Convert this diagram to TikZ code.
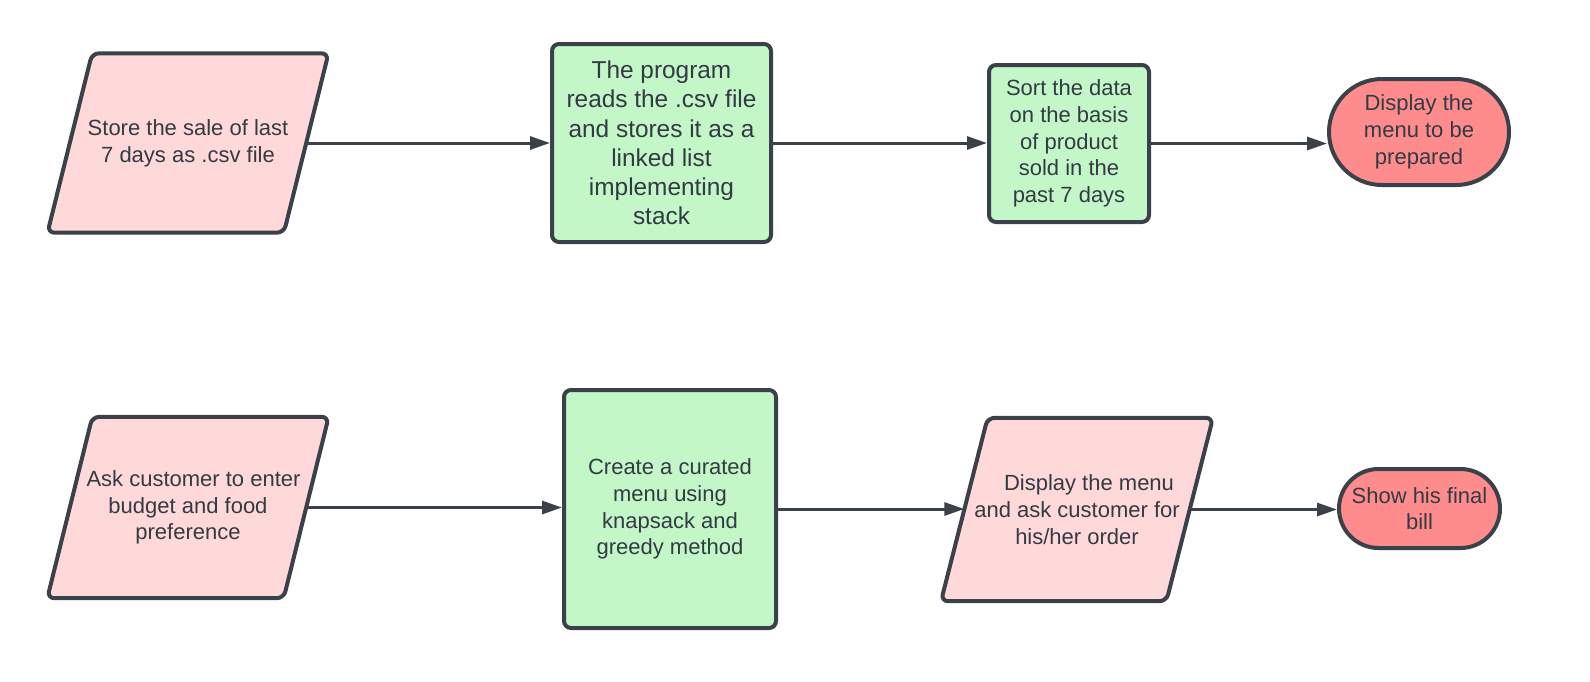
\documentclass[tikz,border=0pt]{standalone}
\usepackage{fontspec}
\setmainfont{Liberation Sans}
\usetikzlibrary{arrows.meta,backgrounds,shapes.misc}
\definecolor{ink}{HTML}{3A414A}
\definecolor{txt}{HTML}{333A44}
\definecolor{pinkfill}{HTML}{FFD9D9}
\definecolor{greenfill}{HTML}{C3F7C8}
\definecolor{redfill}{HTML}{FF8C8C}
\begin{document}
\begin{tikzpicture}[x=1pt,y=-1pt,
  base/.style={align=center, text=txt, font=\fontsize{22}{26.7}\selectfont, inner sep=0pt},
  procbox/.style={base, draw=ink, line width=4pt, fill=greenfill, rounded corners=7pt},
  iobox/.style={base, rectangle},
  paraframe/.style={draw=ink, line width=4pt, fill=pinkfill, rounded corners=7pt, line join=round},
  termbox/.style={base, rounded rectangle, draw=ink, line width=4pt, fill=redfill},
  flow/.style={draw=ink, line width=3pt, -{Triangle[length=20pt,width=13pt]}},
]
\useasboundingbox (0,0) rectangle (1590,681);

% top row
\node[iobox, minimum width=236pt, minimum height=179pt] (P1) at (188,143)
  {Store the sale of last\\7 days as .csv file};
\node[procbox, minimum width=219pt, minimum height=198pt,
      font=\fontsize{24.4}{29.2}\selectfont] (B2) at (661.5,143)
  {The program\\reads the .csv file\\and stores it as a\\linked list\\implementing\\stack};
\node[procbox, minimum width=160pt, minimum height=157pt] (B3) at (1069,143.5)
  {Sort the data\\on the basis\\of product\\sold in the\\past 7 days};
\node[termbox, minimum width=180pt, minimum height=106pt] (T1) at (1419,132)
  {Display the\\menu to be\\prepared};

% bottom row
\node[iobox, minimum width=236pt, minimum height=181pt] (P2) at (188,507.5)
  {\hspace*{11pt}Ask customer to enter\\budget and food\\preference};
\node[procbox, minimum width=212pt, minimum height=238pt] (B5) at (670,509)
  {Create a curated\\menu using\\knapsack and\\greedy method};
\node[iobox, minimum width=225pt, minimum height=183pt] (P3) at (1077,509.5)
  {\hspace*{24pt}Display the menu\\and ask customer for\\his/her order};
\node[termbox, minimum width=161pt, minimum height=79pt] (T2) at (1419.5,508.5)
  {Show his final\\bill};

% parallelogram frames behind their texts
\begin{scope}[on background layer]
  \path[paraframe] ([xshift=-22.3pt]P1.south west) -- ([xshift=22.3pt]P1.north west)
    -- ([xshift=22.3pt]P1.north east) -- ([xshift=-22.3pt]P1.south east) -- cycle;
  \path[paraframe] ([xshift=-22.5pt]P2.south west) -- ([xshift=22.5pt]P2.north west)
    -- ([xshift=22.5pt]P2.north east) -- ([xshift=-22.5pt]P2.south east) -- cycle;
  \path[paraframe] ([xshift=-23.3pt]P3.south west) -- ([xshift=23.3pt]P3.north west)
    -- ([xshift=23.3pt]P3.north east) -- ([xshift=-23.3pt]P3.south east) -- cycle;
\end{scope}

% connectors
\draw[flow] (P1.east) -- (P1.east -| B2.west);
\draw[flow] (B2.east) -- (B2.east -| B3.west);
\draw[flow] (B3.east) -- (B3.east -| T1.west);
\draw[flow] (P2.east) -- (P2.east -| B5.west);
\draw[flow] (B5.east) -- (B5.east -| P3.west);
\draw[flow] (P3.east) -- (P3.east -| T2.west);
\end{tikzpicture}
\end{document}
